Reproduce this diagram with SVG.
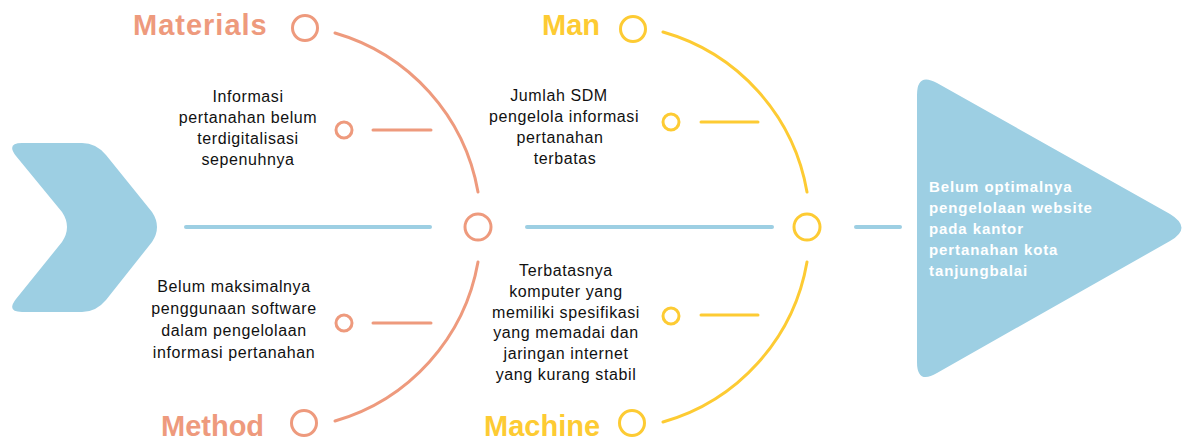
<svg xmlns="http://www.w3.org/2000/svg" width="1186" height="441" viewBox="0 0 1186 441">
<style>
.or{stroke:#EE9A7D;fill:none;stroke-width:3;stroke-linecap:round}
.ye{stroke:#FDCB33;fill:none;stroke-width:3;stroke-linecap:round}
.bl{stroke:#9DCFE3;fill:none;stroke-width:4;stroke-linecap:round}
.t{font-family:"Liberation Sans",Arial,sans-serif;font-size:16px;fill:#111111;text-anchor:middle;letter-spacing:0.6px}
.w{font-family:"Liberation Sans",Arial,sans-serif;font-size:15px;font-weight:bold;fill:#ffffff;letter-spacing:0.9px}
.lo{font-family:"Liberation Sans",Arial,sans-serif;font-size:29px;font-weight:bold;fill:#EE9A7D}
.ly{font-family:"Liberation Sans",Arial,sans-serif;font-size:29px;font-weight:bold;fill:#FDCB33}
</style>
<g id="tail">
<path d="M22,143 L82,143 Q96,143 106,155 L152,212 Q162,227 152,242 L106,300 Q96,312 82,312 L22,312 Q6,312 16,299 L62,242 Q72,227 62,212 L16,156 Q6,143 22,143 Z" fill="#9DCFE3"/>
</g>
<g id="head">
<path d="M917,95 Q917,72 937,83 L1170,214 Q1193,228 1170,241 L937,373 Q917,385 917,362 Z" fill="#9DCFE3"/>
<text class="w" x="929" y="192">Belum optimalnya</text>
<text class="w" x="929" y="213">pengelolaan website</text>
<text class="w" x="929" y="234">pada kantor</text>
<text class="w" x="929" y="255">pertanahan kota</text>
<text class="w" x="929" y="276">tanjungbalai</text>
</g>
<g id="connectors">
<line class="bl" x1="186" y1="227" x2="430" y2="227"/>
<line class="bl" x1="527" y1="227" x2="772" y2="227"/>
<line class="bl" x1="856" y1="227" x2="900" y2="227"/>
<path class="or" d="M335,33 A202,202 0 0 1 478,192"/>
<path class="or" d="M478,262 A202,202 0 0 1 335,421"/>
<path class="ye" d="M663,32 A202,202 0 0 1 807,192"/>
<path class="ye" d="M807,262 A202,202 0 0 1 663,422"/>
<line class="or" x1="373" y1="130" x2="431" y2="130"/>
<line class="or" x1="373" y1="323" x2="431" y2="323"/>
<line class="ye" x1="701" y1="122" x2="758" y2="122"/>
<line class="ye" x1="701" y1="315" x2="758" y2="315"/>
</g>
<g id="spine-nodes">
<circle class="or" cx="478" cy="227" r="13"/>
<circle class="ye" cx="807" cy="227" r="13"/>
</g>
<g id="materials">
<text class="lo" x="133" y="35" letter-spacing="1">Materials</text>
<circle class="or" cx="305" cy="28" r="12.5"/>
<circle class="or" cx="344" cy="130" r="8" stroke-width="2.5"/>
<text class="t" x="248" y="102">Informasi</text>
<text class="t" x="248" y="123">pertanahan belum</text>
<text class="t" x="248" y="144">terdigitalisasi</text>
<text class="t" x="248" y="165">sepenuhnya</text>
</g>
<g id="man">
<text class="ly" x="542" y="35">Man</text>
<circle class="ye" cx="633" cy="29" r="12.5"/>
<circle class="ye" cx="671" cy="122" r="8" stroke-width="2.5"/>
<text class="t" x="559" y="101">Jumlah SDM</text>
<text class="t" x="564" y="122">pengelola informasi</text>
<text class="t" x="560" y="143">pertanahan</text>
<text class="t" x="565" y="164">terbatas</text>
</g>
<g id="method">
<text class="lo" x="161" y="436">Method</text>
<circle class="or" cx="304" cy="423" r="12.5"/>
<circle class="or" cx="344" cy="323" r="8" stroke-width="2.5"/>
<text class="t" x="234" y="292">Belum maksimalnya</text>
<text class="t" x="234" y="314">penggunaan software</text>
<text class="t" x="234" y="336">dalam pengelolaan</text>
<text class="t" x="234" y="358">informasi pertanahan</text>
</g>
<g id="machine">
<text class="ly" x="484" y="436">Machine</text>
<circle class="ye" cx="632" cy="423" r="12.5"/>
<circle class="ye" cx="671" cy="316" r="8" stroke-width="2.5"/>
<text class="t" x="566" y="276">Terbatasnya</text>
<text class="t" x="566" y="297">komputer yang</text>
<text class="t" x="566" y="318">memiliki spesifikasi</text>
<text class="t" x="566" y="338">yang memadai dan</text>
<text class="t" x="566" y="359">jaringan internet</text>
<text class="t" x="566" y="380">yang kurang stabil</text>
</g>
</svg>
